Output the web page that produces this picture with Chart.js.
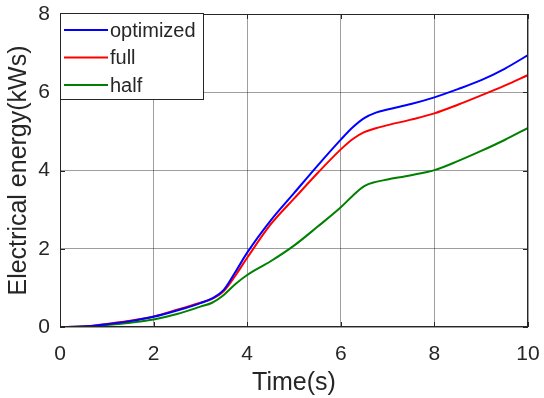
<!DOCTYPE html>
<html>
<head>
<meta charset="utf-8">
<script src="https://cdn.jsdelivr.net/npm/chart.js@4/dist/chart.umd.min.js"></script>
<style>
  html, body { margin: 0; padding: 0; background: #fff; }
  #wrap { width: 544px; height: 398px; }
</style>
</head>
<body>
<div id="wrap"><canvas id="c" width="544" height="398"></canvas></div>
<script>
// ---- data ----
const timeS     = [0, 0.5, 1, 1.5, 2, 2.5, 3, 3.25, 3.5, 3.75, 4, 4.5, 5, 5.5, 6, 6.25, 6.5, 6.75, 7, 7.5, 8, 8.5, 9, 9.5, 10];
const optimized = [0, 0.01, 0.07, 0.15, 0.26, 0.42, 0.61, 0.73, 0.95, 1.41, 1.90, 2.72, 3.42, 4.12, 4.79, 5.10, 5.34, 5.48, 5.56, 5.70, 5.87, 6.08, 6.31, 6.60, 6.95];
const full      = [0, 0.01, 0.08, 0.16, 0.27, 0.44, 0.62, 0.72, 0.92, 1.32, 1.77, 2.62, 3.28, 3.93, 4.54, 4.80, 4.98, 5.08, 5.16, 5.30, 5.46, 5.68, 5.92, 6.17, 6.44];
const half      = [0, 0.01, 0.05, 0.11, 0.19, 0.33, 0.52, 0.62, 0.82, 1.10, 1.33, 1.68, 2.08, 2.56, 3.06, 3.35, 3.60, 3.71, 3.77, 3.88, 4.01, 4.24, 4.50, 4.78, 5.09];
const seriesNames = ['optimized', 'full', 'half'];
const xTicks = [0, 2, 4, 6, 8, 10];
const yTicks = [0, 2, 4, 6, 8];
const xTitle = 'Time(s)';
const yTitle = 'Electrical energy(kWs)';

const colors = ['#0000ff', '#ff0000', '#008000'];
const FONT = "'Liberation Sans', Arial, sans-serif";
const TXT = '#262626';

function pts(ys) { return timeS.map((t, i) => ({ x: t, y: ys[i] })); }

const boxPlugin = {
  id: 'boxLegend',
  afterDatasetsDraw(chart) {
    const { ctx, chartArea: a } = chart;
    ctx.save();
    ctx.strokeStyle = '#262626';
    ctx.lineWidth = 1;
    ctx.strokeRect(a.left + 0.5, a.top + 0.5, a.right - a.left - 1, a.bottom - a.top - 1);
    const xs = chart.scales.x, ys = chart.scales.y;
    ctx.beginPath();
    xTicks.forEach(v => {
      const px = Math.round(xs.getPixelForValue(v)) + 0.5;
      ctx.moveTo(px, a.bottom); ctx.lineTo(px, a.bottom - 5);
      ctx.moveTo(px, a.top); ctx.lineTo(px, a.top + 5);
    });
    yTicks.forEach(v => {
      const py = Math.round(ys.getPixelForValue(v)) + 0.5;
      ctx.moveTo(a.left, py); ctx.lineTo(a.left + 5, py);
      ctx.moveTo(a.right, py); ctx.lineTo(a.right - 5, py);
    });
    ctx.stroke();
    // legend
    const lx = a.left, ly = a.top - 1, lw = 143, lh = 86;
    ctx.fillStyle = '#fff';
    ctx.fillRect(lx, ly, lw, lh);
    ctx.strokeStyle = '#262626';
    ctx.strokeRect(lx + 0.5, ly + 0.5, lw, lh);
    ctx.font = '20px ' + FONT;
    ctx.textBaseline = 'middle';
    chart.data.datasets.forEach((ds, i) => {
      const y = ly + 17 + i * 27.5;
      ctx.strokeStyle = ds.borderColor;
      ctx.lineWidth = 2;
      ctx.beginPath();
      ctx.moveTo(lx + 4, y); ctx.lineTo(lx + 48, y);
      ctx.stroke();
      ctx.fillStyle = TXT;
      ctx.fillText(ds.label, lx + 50, y + 1);
    });
    ctx.restore();
  }
};

new Chart(document.getElementById('c'), {
  type: 'line',
  data: {
    datasets: seriesNames.map((n, i) => ({
      label: n,
      data: pts([optimized, full, half][i]),
      borderColor: colors[i],
      backgroundColor: colors[i],
      borderWidth: 2,
      pointRadius: 0,
      fill: false,
      cubicInterpolationMode: 'monotone'
    }))
  },
  options: {
    responsive: false,
    animation: false,
    layout: { padding: { top: 14, right: 16, left: 0, bottom: 0 } },
    plugins: { legend: { display: false }, tooltip: { enabled: false } },
    scales: {
      x: {
        type: 'linear', min: 0, max: 10,
        afterBuildTicks: s => { s.ticks = xTicks.map(v => ({ value: v })); },
        afterFit: s => { s.height = 71; s.paddingLeft = 0; s.paddingRight = 0; },
        ticks: { color: TXT, font: { family: FONT, size: 21 }, padding: 15, maxRotation: 0 },
        grid: { color: 'rgba(0,0,0,0.38)', lineWidth: 1, drawTicks: false },
        border: { display: false },
        title: { display: true, text: xTitle, color: TXT, font: { family: FONT, size: 25 }, padding: { top: 0, bottom: 0 } }
      },
      y: {
        type: 'linear', min: 0, max: 8,
        afterBuildTicks: s => { s.ticks = yTicks.map(v => ({ value: v })); },
        afterFit: s => { s.width = 60; s.paddingTop = 0; s.paddingBottom = 0; },
        ticks: { color: TXT, font: { family: FONT, size: 21 }, padding: 10 },
        grid: { color: 'rgba(0,0,0,0.38)', lineWidth: 1, drawTicks: false },
        border: { display: false },
        title: { display: true, text: yTitle, color: TXT, font: { family: FONT, size: 25 }, padding: { top: 4, bottom: 0 } }
      }
    }
  },
  plugins: [boxPlugin]
});
</script>
</body>
</html>
